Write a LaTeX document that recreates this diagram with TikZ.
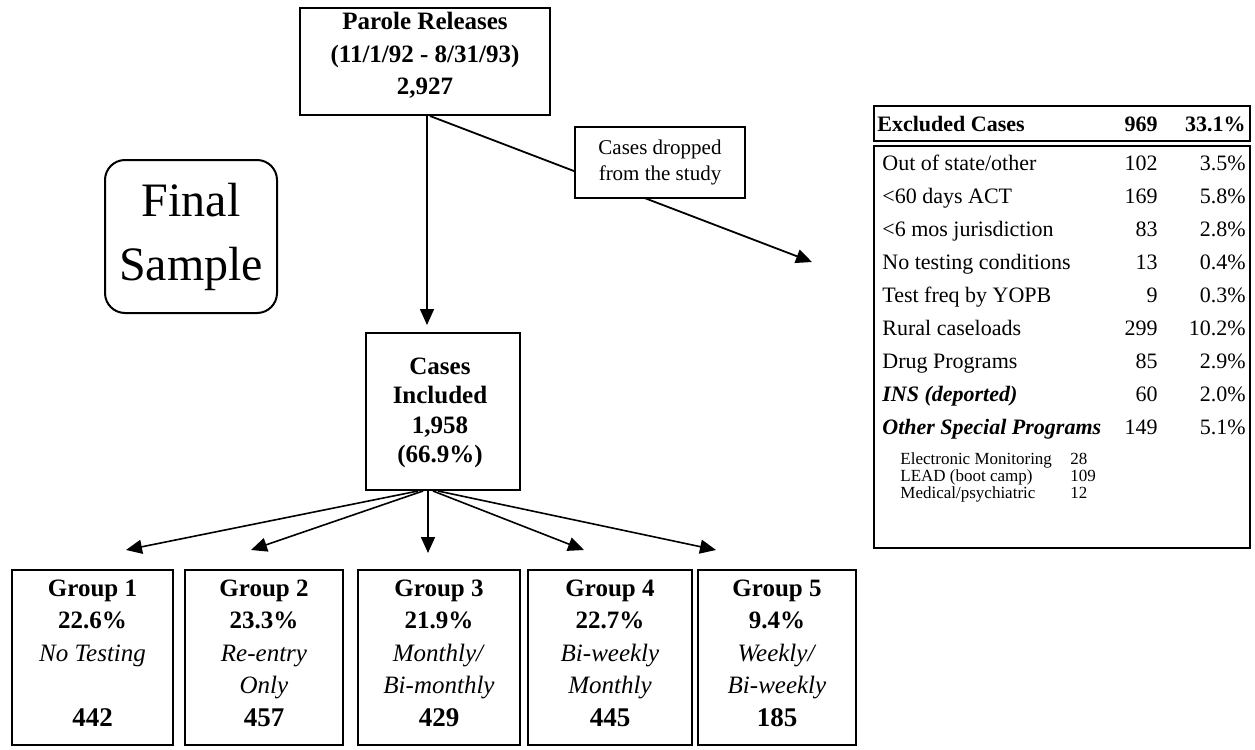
\documentclass[tikz,border=0pt]{standalone}
\usepackage{fontspec}
\setmainfont{Liberation Serif}
\usetikzlibrary{arrows.meta}
\newcommand{\exrow}[5]{%
  \node[rowtxt, anchor=base west] (#1l) at (882,#2) {#3};
  \node[rowtxt, anchor=base east] (#1n) at (1158,#2) {#4};
  \node[rowtxt, anchor=base east] (#1p) at (1246,#2) {#5};}
\newcommand{\subrow}[4]{%
  \node[subtxt, anchor=base west] (#1l) at (900,#2) {#3};
  \node[subtxt, anchor=base west] (#1n) at (1070,#2) {#4};}
\begin{document}
\begin{tikzpicture}[x=0.5pt,y=-0.5pt,
  box/.style={draw, line width=1pt, inner sep=0pt},
  arr/.style={-{Triangle[length=8pt,width=7pt]}, line width=0.8pt},
  btext/.style={align=center, inner sep=0pt, font=\fontsize{12.5pt}{16.25pt}\selectfont\bfseries},
  gtext/.style={align=center, inner sep=0pt, font=\fontsize{12.5pt}{16.25pt}\selectfont},
  rowtxt/.style={inner sep=0pt, font=\fontsize{11pt}{13pt}\selectfont},
  subtxt/.style={inner sep=0pt, font=\fontsize{8.5pt}{10pt}\selectfont}]
\useasboundingbox (0,0) rectangle (1255,750);

% top box
\node[box, minimum width=125pt, minimum height=53.5pt] (top) at (425,61.5) {};
\node[btext] (toptext) at (425,55.5) {Parole Releases\\(11/1/92 - 8/31/93)\\2,927};

% cases included
\node[box, minimum width=77pt, minimum height=78.5pt] (cases) at (443,411.5) {};
\node[btext, font=\fontsize{12.5pt}{14.7pt}\selectfont\bfseries] (casestext) at (440,413) {Cases\\Included\\1,958\\(66.9\%)};

\draw[arr, shorten >=3.5pt] ([xshift=1pt]top.south) -- ([xshift=-8pt]cases.north);

% dropped
\coordinate (droptip) at (812,262);
\draw[arr, line width=0.9pt] ([xshift=2.5pt]top.south) -- (droptip);
\node[box, fill=white, line width=0.9pt, minimum width=85pt, minimum height=35.5pt, align=center,
  font=\fontsize{10.5pt}{13pt}\selectfont] (drop) at (660,162.5) {Cases dropped\\from the study};

% final sample
\node[box, rounded corners=10pt, minimum width=86pt, minimum height=76.5pt, align=center,
  font=\fontsize{24pt}{32pt}\selectfont] (final) at (191,236.5) {Final\\Sample};

% groups
\node[box, minimum width=80.5pt, minimum height=87.5pt] (g1) at (92.5,657.5) {};
\node[box, minimum width=79pt, minimum height=87.5pt] (g2) at (264,657.5) {};
\node[box, minimum width=81pt, minimum height=87.5pt] (g3) at (439,657.5) {};
\node[box, minimum width=82pt, minimum height=87.5pt] (g4) at (610,657.5) {};
\node[box, minimum width=79pt, minimum height=87.5pt] (g5) at (777,657.5) {};
\newcommand{\gnum}[1]{{\fontsize{13.5pt}{16.25pt}\selectfont\bfseries #1}}
\node[gtext] (g1t) at (92.5,653) {\textbf{Group 1}\\\textbf{22.6\%}\\\textit{No Testing}\\\mbox{}\\\gnum{442}};
\node[gtext] (g2t) at (264,653) {\textbf{Group 2}\\\textbf{23.3\%}\\\textit{Re-entry}\\\textit{Only}\\\gnum{457}};
\node[gtext] (g3t) at (439,653) {\textbf{Group 3}\\\textbf{21.9\%}\\\textit{Monthly/}\\\textit{Bi-monthly}\\\gnum{429}};
\node[gtext] (g4t) at (610,653) {\textbf{Group 4}\\\textbf{22.7\%}\\\textit{Bi-weekly}\\\textit{Monthly}\\\gnum{445}};
\node[gtext] (g5t) at (777,653) {\textbf{Group 5}\\\textbf{9.4\%}\\\textit{Weekly/}\\\textit{Bi-weekly}\\\gnum{185}};

% fan arrows
\coordinate (t1) at (126,550);
\coordinate (t2) at (251,550);
\coordinate (t3) at (428,553);
\coordinate (t4) at (584,550);
\coordinate (t5) at (716,550);
\draw[arr] ([xshift=-12.5pt]cases.south) -- (t1);
\draw[arr] ([xshift=-10pt]cases.south) -- (t2);
\draw[arr] ([xshift=-7.5pt]cases.south) -- (t3);
\draw[arr] ([xshift=-5pt]cases.south) -- (t4);
\draw[arr] ([xshift=-2.5pt]cases.south) -- (t5);

% excluded table
\node[box, minimum width=188pt, minimum height=17.5pt] (exhead) at (1062,123.5) {};
\node[box, minimum width=188pt, minimum height=201pt] (exbody) at (1062,347) {};
\node[rowtxt, font=\fontsize{11pt}{13pt}\selectfont\bfseries, anchor=base west] (hl) at (877,131) {Excluded Cases};
\node[rowtxt, font=\fontsize{11pt}{13pt}\selectfont\bfseries, anchor=base east] (hn) at (1158,131) {969};
\node[rowtxt, font=\fontsize{11pt}{13pt}\selectfont\bfseries, anchor=base east] (hp) at (1246,131) {33.1\%};
\exrow{r1}{170}{Out of state/other}{102}{3.5\%}
\exrow{r2}{203}{<60 days ACT}{169}{5.8\%}
\exrow{r3}{236}{<6 mos jurisdiction}{83}{2.8\%}
\exrow{r4}{269}{No testing conditions}{13}{0.4\%}
\exrow{r5}{302}{Test freq by YOPB}{9}{0.3\%}
\exrow{r6}{335}{Rural caseloads}{299}{10.2\%}
\exrow{r7}{368}{Drug Programs}{85}{2.9\%}
\exrow{r8}{401}{\textbf{\textit{INS (deported)}}}{60}{2.0\%}
\exrow{r9}{434}{\textbf{\textit{Other Special Programs}}}{149}{5.1\%}
\subrow{s1}{464.5}{Electronic Monitoring}{28}
\subrow{s2}{481.5}{LEAD (boot camp)}{109}
\subrow{s3}{498.5}{Medical/psychiatric}{12}
\end{tikzpicture}
\end{document}
